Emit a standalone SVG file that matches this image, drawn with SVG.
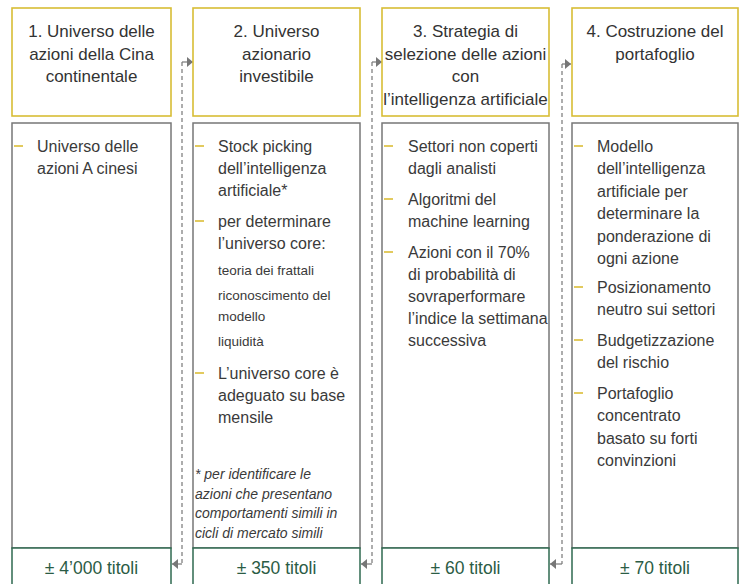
<svg xmlns="http://www.w3.org/2000/svg" width="742" height="584" viewBox="0 0 742 584">
<style>
.hdr{fill:#fff;stroke:#d8bd35;stroke-width:1.6}
.body{fill:#fff;stroke:#777;stroke-width:1.5}
.foot{fill:#fff;stroke:#2f6a50;stroke-width:1.5}
.ht{font-family:"Liberation Sans",Arial,sans-serif;font-size:17px;fill:#333;text-anchor:middle}
.bt{font-family:"Liberation Sans",Arial,sans-serif;font-size:16px;fill:#3a3a3a}
.st{font-family:"Liberation Sans",Arial,sans-serif;font-size:13.5px;fill:#3a3a3a}
.fn{font-family:"Liberation Sans",Arial,sans-serif;font-size:14px;font-style:italic;fill:#3a3a3a}
.ft{font-family:"Liberation Sans",Arial,sans-serif;font-size:17.5px;fill:#2b5c45;text-anchor:middle}
.dash{stroke:#d8b92a;stroke-width:1.5}
.conn{fill:none;stroke:#777;stroke-width:1.2;stroke-dasharray:4 3}
.stub{fill:none;stroke:#777;stroke-width:1.2}
</style>
<defs>
<marker id="ah" viewBox="0 0 6 10" refX="6" refY="5" markerWidth="6" markerHeight="10" markerUnits="userSpaceOnUse" orient="auto-start-reverse">
<path d="M0,0 L6,5 L0,10 Z" fill="#777"/>
</marker>
</defs>
<g id="connectors">
<path class="conn" d="M182,62 V564"/>
<path class="stub" d="M182,62 H193" marker-end="url(#ah)"/>
<path class="stub" d="M182,564 H172" marker-end="url(#ah)"/>
<path class="conn" d="M372,62 V564"/>
<path class="stub" d="M372,62 H382" marker-end="url(#ah)"/>
<path class="stub" d="M372,564 H361" marker-end="url(#ah)"/>
<path class="conn" d="M562,64 V564"/>
<path class="stub" d="M562,64 H571" marker-end="url(#ah)"/>
<path class="stub" d="M562,564 H550" marker-end="url(#ah)"/>
</g>
<g id="col1">
<rect class="hdr" x="12" y="8" width="159" height="108"/>
<text class="ht" x="91.5" y="37">1. Universo delle</text>
<text class="ht" x="91.5" y="59.5">azioni della Cina</text>
<text class="ht" x="91.5" y="82">continentale</text>
<rect class="body" x="12" y="123" width="159" height="425"/>
<line class="dash" x1="14" y1="146" x2="23" y2="146"/>
<text class="bt" x="37" y="152">Universo delle</text>
<text class="bt" x="37" y="174">azioni A cinesi</text>
<rect class="foot" x="12" y="548" width="159" height="40"/>
<text class="ft" x="91.5" y="574">± 4’000 titoli</text>
</g>
<g id="col2">
<rect class="hdr" x="193" y="8" width="167" height="108"/>
<text class="ht" x="276.5" y="37">2. Universo</text>
<text class="ht" x="276.5" y="59.5">azionario</text>
<text class="ht" x="276.5" y="82">investibile</text>
<rect class="body" x="193" y="123" width="167" height="425"/>
<line class="dash" x1="195" y1="146" x2="204" y2="146"/>
<text class="bt" x="218" y="152">Stock picking</text>
<text class="bt" x="218" y="174">dell’intelligenza</text>
<text class="bt" x="218" y="196">artificiale*</text>
<line class="dash" x1="195" y1="221" x2="204" y2="221"/>
<text class="bt" x="218" y="227">per determinare</text>
<text class="bt" x="218" y="249">l’universo core:</text>
<text class="st" x="218" y="275">teoria dei frattali</text>
<text class="st" x="218" y="300">riconoscimento del</text>
<text class="st" x="218" y="321">modello</text>
<text class="st" x="218" y="346">liquidità</text>
<line class="dash" x1="195" y1="373" x2="204" y2="373"/>
<text class="bt" x="218" y="379">L’universo core è</text>
<text class="bt" x="218" y="401">adeguato su base</text>
<text class="bt" x="218" y="423">mensile</text>
<text class="fn" x="195" y="479">* per identificare le</text>
<text class="fn" x="195" y="498.5">azioni che presentano</text>
<text class="fn" x="195" y="518">comportamenti simili in</text>
<text class="fn" x="195" y="537.5">cicli di mercato simili</text>
<rect class="foot" x="193" y="548" width="167" height="40"/>
<text class="ft" x="276.5" y="574">± 350 titoli</text>
</g>
<g id="col3">
<rect class="hdr" x="382" y="8" width="167" height="108"/>
<text class="ht" x="465.5" y="37">3. Strategia di</text>
<text class="ht" x="465.5" y="59.5">selezione delle azioni</text>
<text class="ht" x="465.5" y="82">con</text>
<text class="ht" x="465.5" y="104.5">l’intelligenza artificiale</text>
<rect class="body" x="382" y="123" width="167" height="425"/>
<line class="dash" x1="384" y1="146" x2="393" y2="146"/>
<text class="bt" x="408" y="152">Settori non coperti</text>
<text class="bt" x="408" y="174">dagli analisti</text>
<line class="dash" x1="384" y1="199" x2="393" y2="199"/>
<text class="bt" x="408" y="205">Algoritmi del</text>
<text class="bt" x="408" y="227">machine learning</text>
<line class="dash" x1="384" y1="252" x2="393" y2="252"/>
<text class="bt" x="408" y="258">Azioni con il 70%</text>
<text class="bt" x="408" y="280">di probabilità di</text>
<text class="bt" x="408" y="302">sovraperformare</text>
<text class="bt" x="408" y="324">l’indice la settimana</text>
<text class="bt" x="408" y="346">successiva</text>
<rect class="foot" x="382" y="548" width="167" height="40"/>
<text class="ft" x="465.5" y="574">± 60 titoli</text>
</g>
<g id="col4">
<rect class="hdr" x="572" y="8" width="166" height="108"/>
<text class="ht" x="655" y="37">4. Costruzione del</text>
<text class="ht" x="655" y="59.5">portafoglio</text>
<rect class="body" x="572" y="123" width="166" height="425"/>
<line class="dash" x1="574" y1="146" x2="583" y2="146"/>
<text class="bt" x="597" y="152">Modello</text>
<text class="bt" x="597" y="174">dell’intelligenza</text>
<text class="bt" x="597" y="196.5">artificiale per</text>
<text class="bt" x="597" y="219">determinare la</text>
<text class="bt" x="597" y="241.5">ponderazione di</text>
<text class="bt" x="597" y="264">ogni azione</text>
<line class="dash" x1="574" y1="287" x2="583" y2="287"/>
<text class="bt" x="597" y="293">Posizionamento</text>
<text class="bt" x="597" y="315">neutro sui settori</text>
<line class="dash" x1="574" y1="340" x2="583" y2="340"/>
<text class="bt" x="597" y="346">Budgetizzazione</text>
<text class="bt" x="597" y="368">del rischio</text>
<line class="dash" x1="574" y1="393" x2="583" y2="393"/>
<text class="bt" x="597" y="399">Portafoglio</text>
<text class="bt" x="597" y="421">concentrato</text>
<text class="bt" x="597" y="443.5">basato su forti</text>
<text class="bt" x="597" y="466">convinzioni</text>
<rect class="foot" x="572" y="548" width="166" height="40"/>
<text class="ft" x="655" y="574">± 70 titoli</text>
</g>
</svg>
